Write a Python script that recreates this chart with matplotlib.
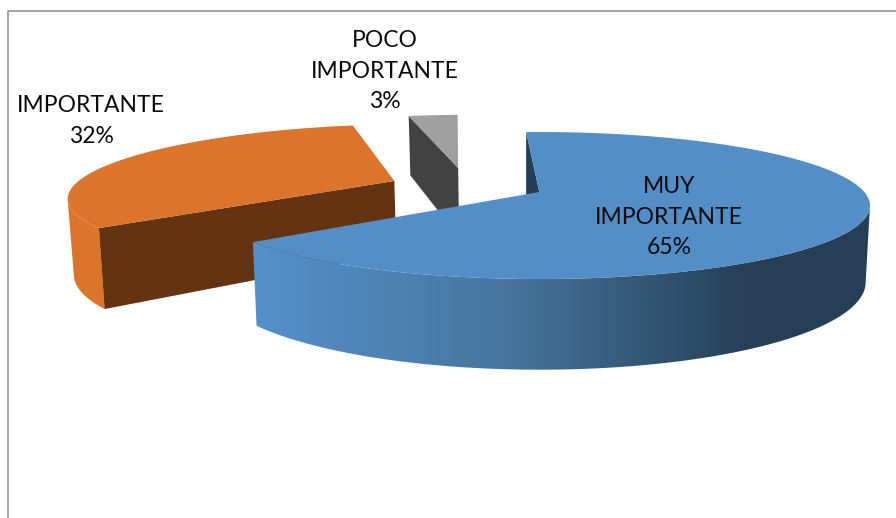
import numpy as np
import matplotlib
matplotlib.use("Agg")
import matplotlib.pyplot as plt
from matplotlib.colors import LinearSegmentedColormap
from matplotlib.patches import Polygon

# datos del grafico
categorias = ["MUY\nIMPORTANTE", "IMPORTANTE", "POCO\nIMPORTANTE"]
valores = [65, 32, 3]

# perspectiva del pastel 3D (pixeles de la imagen)
cx, cy = 538, 192
a, b, k = 325, 71, 0.184
prof = 74
inicio = -2.7
explosion = [(0.004, 0), (-0.455, 0.16), (-0.262, 0.36)]
etiq_xy = [(669, 217), (91, 121), (385, 71)]


def proy(u, v):
    w = 1 + k * v
    return cx + a * u / w, cy - b * v / w


def abajo(u, v):
    # mismo punto en la cara inferior
    x, y = proy(u, v)
    w = 1 + k * v
    return cx + (x - cx) * 0.987, y + prof / w


def arco(t0, t1, off, f=proy):
    t = np.radians(np.linspace(t0, t1, 400))
    return np.array([f(np.sin(i) + off[0], np.cos(i) + off[1]) for i in t])


fig = plt.figure(figsize=(8.96, 5.18), dpi=100)
ax = fig.add_axes([0, 0, 1, 1])
ax.set_xlim(0, 896)
ax.set_ylim(518, 0)
ax.axis("off")

# marco
ax.plot([7.5, 7.5, 896], [518, 10.5, 10.5], color="#8c8c8c", lw=1.1)

angulos = inicio + np.cumsum([0] + valores) * 360 / sum(valores)

# gris (atras)
t0, t1 = angulos[2], angulos[3]
off = explosion[2]
ap = proy(*off)
ap2 = abajo(*off)
sup = arco(t0, t1, off)
inf = arco(t0, t1, off, abajo)
ax.add_patch(Polygon([sup[0], ap, ap2, inf[0]], fc="#424242", ec="none"))
ax.add_patch(Polygon(np.vstack([[ap], sup]), fc="#A0A0A0", ec="none"))

# naranja: pared solo desde el borde izquierdo hasta el corte
t0, t1 = angulos[1], angulos[2]
off = explosion[1]
ap = proy(*off)
ap2 = abajo(*off)
sup = arco(t0, t1, off)
inf = arco(t0, t1, off, abajo)
n = np.argmin(sup[:, 0]) + 1
ax.add_patch(Polygon(np.vstack([sup[:n], inf[:n][::-1]]), fc="#DC742C", ec="none"))
ax.add_patch(Polygon([sup[0], ap, ap2, inf[0]], fc="#643311", ec="none"))
ax.add_patch(Polygon(np.vstack([[ap], sup]), fc="#DC742C", ec="none"))

# azul: pared desde el borde derecho hasta el corte
t0, t1 = angulos[0], angulos[1]
off = explosion[0]
ap = proy(*off)
ap2 = abajo(*off)
sup = arco(t0, t1, off)
inf = arco(t0, t1, off, abajo)
n = np.argmax(sup[:, 0])
cm = LinearSegmentedColormap.from_list(
    "azul", [(0, "#5591CA"), (0.4, "#47769F"), (0.8, "#263F55"), (1, "#263F55")]
)
pared = Polygon(np.vstack([sup[n:], inf[n:][::-1]]), fc="none", ec="none")
ax.add_patch(pared)
im = ax.imshow(np.linspace(0, 1, 256)[None, :], cmap=cm, extent=[250, 875, 380, 200],
               aspect="auto", zorder=2)
im.set_clip_path(pared)
ax.set_xlim(0, 896)
ax.set_ylim(518, 0)
ax.add_patch(Polygon([sup[0], ap, (sup[0][0], ap2[1] - 16)], fc="#243E55", ec="none", zorder=3))
ax.add_patch(Polygon(np.vstack([[ap], sup]), fc="#538EC7", ec="none", zorder=3))

# etiquetas
for nombre, valor, (x, y) in zip(categorias, valores, etiq_xy):
    ax.text(x, y, f"{nombre}\n{valor}%", ha="center", va="center", family="Lato",
            fontsize=16.5, color="#0a0a0a", linespacing=1.58, zorder=4)

fig.savefig("out.png", dpi=100)
